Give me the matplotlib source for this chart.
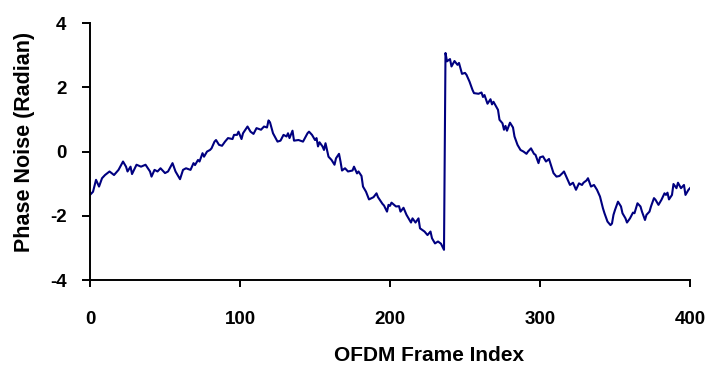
import matplotlib
matplotlib.use("Agg")
import matplotlib.pyplot as plt

# Phase noise trace per OFDM frame (wrapped to [-pi, pi])
frame_index = [
    0, 2, 4, 6, 8, 10, 13, 16, 19, 22, 24, 25, 27, 28, 31, 34, 37, 40, 41, 43,
    45, 47, 50, 52, 55, 57, 60, 62, 64, 67, 69, 70, 72, 73, 75, 76, 78, 80, 81, 83,
    84, 86, 88, 90, 92, 95, 96, 98, 99, 101, 102, 105, 107, 109, 111, 114, 116, 118, 119, 120,
    122, 125, 127, 129, 131, 132, 133, 135, 136, 139, 142, 145, 146, 148, 150, 151, 152, 153, 155, 156,
    157, 158, 159, 161, 163, 164, 166, 167, 168, 170, 172, 175, 176, 178, 179, 181, 182, 184, 186, 189,
    191, 192, 195, 196, 198, 199, 200, 201, 204, 206, 207, 209, 211, 214, 215, 217, 219, 220, 223, 225,
    227, 228, 230, 232, 234, 236, 237, 238, 240, 241, 243, 245, 246, 248, 250, 251, 253, 255, 256, 259,
    261, 262, 263, 265, 267, 268, 269, 272, 273, 275, 276, 277, 278, 280, 282, 283, 285, 287, 289, 291,
    292, 294, 296, 297, 299, 300, 302, 304, 306, 309, 311, 313, 315, 316, 318, 320, 322, 324, 326, 328,
    329, 331, 332, 334, 336, 338, 340, 342, 343, 345, 347, 348, 349, 350, 352, 354, 355, 357, 358, 360,
    362, 363, 365, 367, 368, 370, 371, 373, 374, 376, 377, 379, 381, 383, 384, 385, 386, 388, 389, 391,
    392, 394, 396, 397, 399, 400,
]
phase_noise = [
    -1.35, -1.25, -0.88, -1.09, -0.83, -0.73, -0.62, -0.73, -0.57, -0.31, -0.47, -0.62, -0.47, -0.70, -0.41, -0.47, -0.41, -0.62, -0.78, -0.57,
    -0.62, -0.52, -0.67, -0.62, -0.36, -0.62, -0.86, -0.57, -0.52, -0.57, -0.36, -0.42, -0.26, -0.31, -0.05, -0.16, 0.00, 0.05, 0.10, 0.31,
    0.36, 0.21, 0.18, 0.31, 0.42, 0.39, 0.52, 0.52, 0.62, 0.39, 0.57, 0.78, 0.62, 0.55, 0.73, 0.68, 0.78, 0.75, 0.97, 0.91,
    0.57, 0.31, 0.34, 0.52, 0.47, 0.57, 0.42, 0.65, 0.34, 0.36, 0.31, 0.57, 0.62, 0.52, 0.36, 0.42, 0.16, 0.29, 0.16, 0.05,
    0.26, 0.05, -0.16, -0.26, -0.41, -0.21, -0.07, -0.31, -0.59, -0.52, -0.62, -0.59, -0.47, -0.68, -0.62, -0.76, -1.09, -1.25, -1.49, -1.42,
    -1.30, -1.42, -1.63, -1.68, -1.87, -1.66, -1.69, -1.59, -1.71, -1.70, -1.87, -1.75, -1.97, -2.21, -2.08, -2.21, -2.08, -2.39, -2.49, -2.60,
    -2.49, -2.70, -2.86, -2.80, -2.87, -3.06, 3.07, 2.81, 2.88, 2.65, 2.82, 2.70, 2.76, 2.42, 2.45, 2.39, 2.18, 1.92, 1.82, 1.80,
    1.84, 1.70, 1.76, 1.49, 1.63, 1.47, 1.55, 1.30, 0.99, 0.88, 0.68, 0.80, 0.65, 0.90, 0.75, 0.47, 0.21, 0.05, 0.00, -0.07,
    0.00, 0.10, -0.07, -0.10, -0.36, -0.18, -0.15, -0.31, -0.23, -0.67, -0.78, -0.76, -0.67, -0.62, -0.83, -1.04, -0.97, -1.19, -0.99, -1.04,
    -0.97, -0.90, -0.83, -1.09, -1.04, -1.19, -1.40, -1.77, -1.92, -2.18, -2.29, -2.24, -1.97, -1.82, -1.56, -1.71, -1.92, -2.08, -2.21, -2.08,
    -1.90, -1.92, -1.61, -1.71, -1.87, -2.13, -1.97, -1.87, -1.71, -1.45, -1.50, -1.66, -1.50, -1.30, -1.35, -1.28, -1.49, -1.35, -1.01, -1.14,
    -0.97, -1.14, -1.04, -1.35, -1.19, -1.14,
]

x_ticks = [0, 100, 200, 300, 400]
y_ticks = [-4, -2, 0, 2, 4]

plt.rcParams["font.family"] = ["Liberation Sans", "DejaVu Sans"]
plt.rcParams["font.weight"] = "bold"

fig = plt.figure(figsize=(7.10, 3.67), dpi=100)
ax = fig.add_axes([0.1268, 0.237, 0.845, 0.700])

ax.plot(frame_index, phase_noise, color="#000080", linewidth=1.5)

ax.set_xlim(0, 400)
ax.set_ylim(-4, 4)
ax.set_xticks(x_ticks)
ax.set_yticks(y_ticks)
ax.set_xticklabels([str(v) for v in x_ticks], fontsize=13.5, fontweight="bold")
ax.set_yticklabels([str(v) for v in y_ticks], fontsize=13.5, fontweight="bold")

for side in ("top", "right"):
    ax.spines[side].set_visible(False)
for side in ("left", "bottom"):
    ax.spines[side].set_linewidth(1.4)
    ax.spines[side].set_color("black")

ax.tick_params(axis="x", direction="out", length=5, width=1.4, pad=17.5)
ax.tick_params(axis="y", direction="out", length=6, width=1.4, pad=11)

ax.set_xlabel("OFDM Frame Index", fontsize=15, fontweight="bold")
ax.set_ylabel("Phase Noise (Radian)", fontsize=15.5, fontweight="bold")
ax.xaxis.set_label_coords(0.565, -0.258)
ax.yaxis.set_label_coords(-0.092, 0.539)

fig.savefig("out.png", dpi=100)
